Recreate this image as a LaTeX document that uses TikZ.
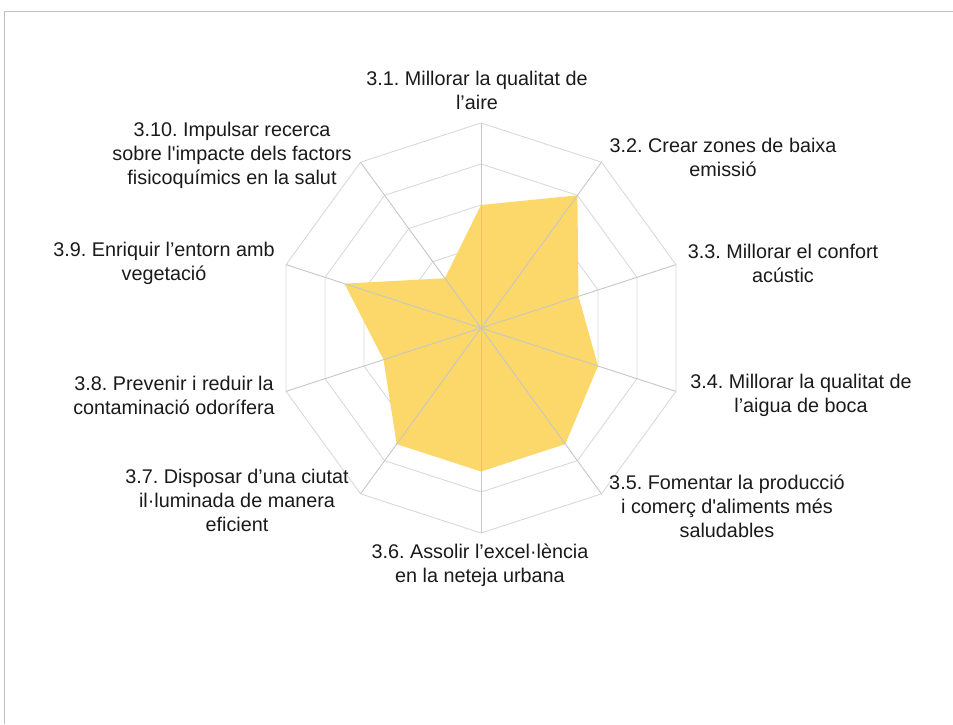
\documentclass[tikz,border=0pt]{standalone}
\usepackage{fontspec}
\setmainfont{Liberation Sans}[Ligatures=TeXOff]
\definecolor{gridc}{HTML}{D9D9D9}
\definecolor{axisc}{HTML}{C6C6C6}
\definecolor{fillc}{HTML}{FCD76A}
\definecolor{framec}{HTML}{BFBFBF}
\definecolor{txt}{HTML}{1A1A1A}
\begin{document}
\begin{tikzpicture}[x=1pt,y=1pt,
  lbl/.style={align=center, text=txt, font=\fontsize{19.8}{24}\selectfont\frenchspacing, inner sep=0pt},
  ringline/.style={draw=gridc, line width=0.9pt},
  axisline/.style={draw=axisc, line width=0.9pt}]
\useasboundingbox (0,0) rectangle (953,-724);
\draw[framec, line width=1pt] (4,-724) -- (4,-11) -- (953,-11);
\coordinate (c) at (481,-328);
\begin{scope}[shift={(c)}]
  \foreach \k in {1,...,5} {
    \pgfmathsetmacro{\r}{41*\k}
    \draw[ringline] (90:\r) \foreach \i in {1,...,9} { -- ({90-36*\i}:\r) } -- cycle;
  }
  \fill[fillc] (90:123) -- (54:164) -- (18:102.5) -- (-18:123) -- (-54:143.5)
    -- (-90:143.5) -- (-126:143.5) -- (-162:102.5) -- (162:143.5) -- (126:61.5) -- cycle;
  \foreach \i in {0,...,9} {
    \coordinate (v\i) at ({90-36*\i}:205);
  }
\end{scope}
\foreach \i in {0,...,9} { \draw[axisline] (c) -- (v\i); }
\node[lbl] (l1) at (477,-90) {3.1. Millorar la qualitat de\\l’aire};
\node[lbl] (l2) at (723,-157) {3.2. Crear zones de baixa\\emissió};
\node[lbl] (l3) at (783,-263) {3.3. Millorar el confort\\acústic};
\node[lbl] (l4) at (801,-395) {3.4. Millorar la qualitat de\\l’aigua de boca};
\node[lbl] (l5) at (727,-506) {3.5. Fomentar la producció\\i comerç d'aliments més\\saludables};
\node[lbl] (l6) at (480,-565) {3.6. Assolir l’excel·lència\\en la neteja urbana};
\node[lbl] (l7) at (237,-500) {3.7. Disposar d’una ciutat\\il·luminada de manera\\eficient};
\node[lbl] (l8) at (174,-395) {3.8. Prevenir i reduir la\\contaminació odorífera};
\node[lbl] (l9) at (164,-263) {3.9. Enriquir l’entorn amb\\vegetació};
\node[lbl] (l10) at (232,-155) {3.10. Impulsar recerca\\sobre l'impacte dels factors\\fisicoquímics en la salut};
\end{tikzpicture}
\end{document}
